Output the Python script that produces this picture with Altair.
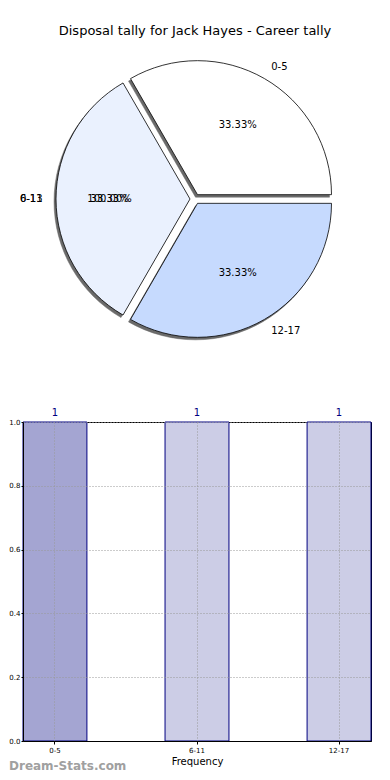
import altair as alt
import pandas as pd

title_text = "Disposal tally for Jack Hayes - Career tally"
categories = ["0-5", "6-11", "12-17"]
counts = [1, 1, 1]
pie_colors = ["#ffffff", "#eaf1fe", "#c6dafe"]
bar_colors = ["#a4a5d2", "#cccde6", "#cccde6"]
ghost_label = ["0-13"]
ghost_pct = ["100.00%"]
y_ticks = [0.0, 0.2, 0.4, 0.6, 0.8, 1.0]
watermark = ["Dream-Stats.com"]

FONT = "DejaVu Sans"
df = pd.DataFrame({"cat": categories, "count": counts, "order": list(range(len(categories)))})

# pie geometry (pixels inside the top panel)
CX, CY, R, EXP = 172, 191, 134, 5
W1, H1 = 348, 387

pie_base = (
    alt.Chart(df)
    .transform_window(cum="sum(count)", sort=[alt.SortField("order")])
    .transform_joinaggregate(total="sum(count)")
    .transform_calculate(
        t1="PI/2 - 2*PI*(datum.cum - datum.count)/datum.total",
        t2="PI/2 - 2*PI*datum.cum/datum.total",
    )
    .transform_calculate(tm="(datum.t1 + datum.t2)/2")
    .transform_calculate(
        cx=f"{CX} + {EXP}*sin(datum.tm)",
        cy=f"{CY} - {EXP}*cos(datum.tm)",
    )
    .transform_calculate(
        sx="datum.cx - 2",
        sy="datum.cy + 2.5",
        lx=f"datum.cx + {1.1 * R}*sin(datum.tm)",
        ly=f"datum.cy - {1.1 * R}*cos(datum.tm)",
        px=f"datum.cx + {0.6 * R}*sin(datum.tm)",
        py=f"datum.cy - {0.6 * R}*cos(datum.tm)",
        pct="format(100*datum.count/datum.total, '.2f') + '%'",
    )
)

shadow = pie_base.mark_arc(radius=R, fill="#6a6a6a", stroke="#6a6a6a", strokeWidth=0.5).encode(
    theta=alt.Theta("t2:Q", scale=None),
    theta2=alt.Theta2("t1:Q"),
    x=alt.X("sx:Q", scale=None),
    y=alt.Y("sy:Q", scale=None),
)

slices = pie_base.mark_arc(radius=R, stroke="black", strokeWidth=0.8).encode(
    theta=alt.Theta("t2:Q", scale=None),
    theta2=alt.Theta2("t1:Q"),
    x=alt.X("cx:Q", scale=None),
    y=alt.Y("cy:Q", scale=None),
    fill=alt.Fill("cat:N", scale=alt.Scale(domain=categories, range=pie_colors), legend=None),
)

lab_right = pie_base.transform_filter("sin(datum.tm) >= 0").mark_text(
    align="left", baseline="middle", font=FONT, fontSize=10, color="black"
).encode(x=alt.X("lx:Q", scale=None), y=alt.Y("ly:Q", scale=None), text="cat:N")

lab_left = pie_base.transform_filter("sin(datum.tm) < 0").mark_text(
    align="right", baseline="middle", font=FONT, fontSize=10, color="black"
).encode(x=alt.X("lx:Q", scale=None), y=alt.Y("ly:Q", scale=None), text="cat:N")

ghost_lab = pie_base.transform_filter("datum.cat == '6-11'").mark_text(
    align="right", baseline="middle", font=FONT, fontSize=10, color="black"
).encode(x=alt.X("lx:Q", scale=None), y=alt.Y("ly:Q", scale=None), text=alt.value(ghost_label[0]))

pct_text = pie_base.mark_text(
    align="center", baseline="middle", font=FONT, fontSize=10, color="black"
).encode(x=alt.X("px:Q", scale=None), y=alt.Y("py:Q", scale=None), text="pct:N")

ghost_pct_text = pie_base.transform_filter("datum.cat == '6-11'").mark_text(
    align="center", baseline="middle", font=FONT, fontSize=10, color="black"
).encode(x=alt.X("px:Q", scale=None), y=alt.Y("py:Q", scale=None), text=alt.value(ghost_pct[0]))

title_mark = alt.Chart(pd.DataFrame({"t": [title_text]})).mark_text(
    align="center", baseline="middle", font=FONT, fontSize=13, color="black"
).encode(x=alt.value(172), y=alt.value(23), text="t:N")

pie = alt.layer(
    shadow, slices, lab_right, lab_left, ghost_lab, pct_text, ghost_pct_text, title_mark
).properties(width=W1, height=H1, view=alt.ViewBackground(strokeOpacity=0))

# bar chart
W2, H2 = 348, 319
bars_base = alt.Chart(df)
x_enc = alt.X(
    "cat:N",
    sort=categories,
    scale=alt.Scale(paddingInner=0.55, paddingOuter=0),
    axis=alt.Axis(
        title="Frequency", labelAngle=0, labelFontSize=7, labelFont=FONT, labelColor="black",
        titleFont=FONT, titleFontSize=10, titleFontWeight="normal", titleColor="black", titlePadding=3,
        grid=True, gridDash=[1, 2], gridColor="#999999", bandPosition=0.5,
        tickSize=3, tickColor="black", domainColor="black", labelPadding=2, zindex=1,
    ),
)
y_enc = alt.Y(
    "count:Q",
    scale=alt.Scale(domain=[0, 1], nice=False),
    axis=alt.Axis(
        values=y_ticks, format=".1f", title=None, labelFontSize=7, labelFont=FONT, labelColor="black",
        grid=True, gridDash=[1, 2], gridColor="#999999", tickSize=2, tickColor="black",
        domainColor="black", labelPadding=1, zindex=1,
    ),
)
bars = bars_base.mark_bar(stroke="#000080", strokeWidth=1).encode(
    x=x_enc,
    y=y_enc,
    fill=alt.Fill("cat:N", scale=alt.Scale(domain=categories, range=bar_colors), legend=None),
)
bar_text = bars_base.mark_text(dy=-9, font=FONT, fontSize=10, color="#000080").encode(
    x=alt.X("cat:N", sort=categories), y="count:Q", text="count:Q"
)
wm = alt.Chart(pd.DataFrame({"w": watermark})).mark_text(
    align="left", baseline="middle", font=FONT, fontSize=12, fontWeight="bold", color="#a0a0a0"
).encode(x=alt.value(-14), y=alt.value(H2 + 25), text="w:N")

barchart = alt.layer(bars, bar_text, wm).properties(width=W2, height=H2)

chart = (
    alt.vconcat(pie, barchart, spacing=12)
    .resolve_scale(fill="independent")
    .properties(padding=0)
    .configure_view(stroke="black", strokeWidth=1)
)

chart.save("out.html", embed_options={"renderer": "svg", "actions": False})
